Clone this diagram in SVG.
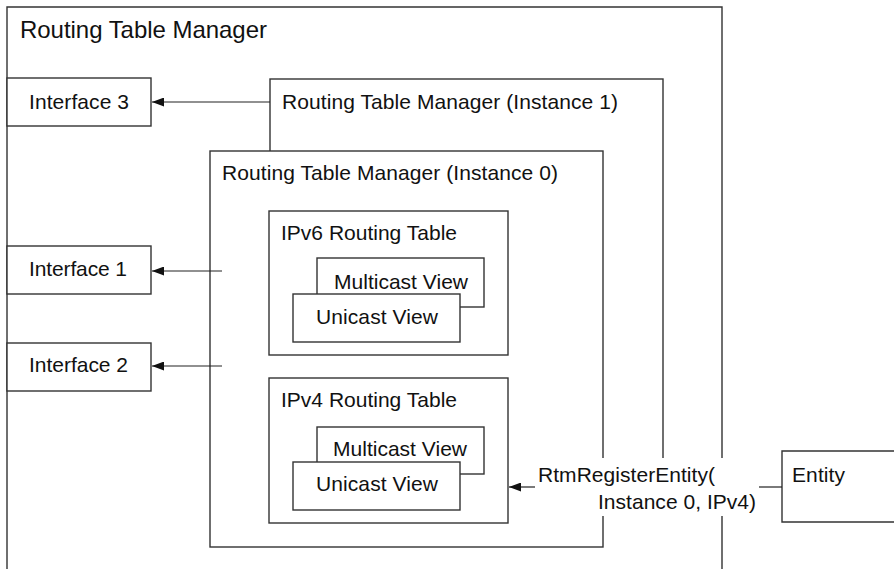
<svg xmlns="http://www.w3.org/2000/svg" width="894" height="569" viewBox="0 0 894 569">
  <style>
    .box { fill: #ffffff; stroke: #333; stroke-width: 1.4; }
    .frame { fill: none; stroke: #333; stroke-width: 1.4; }
    .lbl { font-family: "Liberation Sans", Arial, sans-serif; font-size: 21px; fill: #111; }
    .title { font-size: 24px; }
    .conn { stroke: #222; stroke-width: 1.2; fill: none; }
  </style>
  <defs>
    <marker id="arrowhead" viewBox="0 0 12 9" refX="12" refY="4.5" markerWidth="12" markerHeight="9" markerUnits="userSpaceOnUse" orient="auto">
      <path d="M0,0 L12,4.5 L0,9 z" fill="#111"/>
    </marker>
  </defs>

  <rect x="0" y="0" width="894" height="569" fill="#ffffff"/>

  <!-- outer manager frame (bottom runs off the page) -->
  <g id="rtm">
    <path class="frame" d="M7,580 V7 H722 V580"/>
    <text class="lbl title" x="20" y="38" textLength="247" lengthAdjust="spacing">Routing Table Manager</text>
  </g>

  <g id="instance1">
    <rect class="box" x="270" y="79" width="393" height="421"/>
    <text class="lbl" x="282" y="109" textLength="336" lengthAdjust="spacing">Routing Table Manager (Instance 1)</text>
  </g>

  <g id="instance0">
    <rect class="box" x="210" y="151" width="393" height="396"/>
    <text class="lbl" x="222" y="180" textLength="336" lengthAdjust="spacing">Routing Table Manager (Instance 0)</text>
  </g>

  <g id="ipv6-table">
    <rect class="box" x="269" y="211" width="239" height="144"/>
    <text class="lbl" x="281" y="240" textLength="176" lengthAdjust="spacing">IPv6 Routing Table</text>
  </g>
  <g id="ipv6-multicast">
    <rect class="box" x="317" y="258" width="167" height="49"/>
    <text class="lbl" x="334" y="289" textLength="134" lengthAdjust="spacing">Multicast View</text>
  </g>
  <g id="ipv6-unicast">
    <rect class="box" x="293" y="294" width="167" height="48"/>
    <text class="lbl" x="316" y="324" textLength="122" lengthAdjust="spacing">Unicast View</text>
  </g>

  <g id="ipv4-table">
    <rect class="box" x="269" y="378" width="239" height="145"/>
    <text class="lbl" x="281" y="407" textLength="176" lengthAdjust="spacing">IPv4 Routing Table</text>
  </g>
  <g id="ipv4-multicast">
    <rect class="box" x="317" y="427" width="167" height="47"/>
    <text class="lbl" x="333" y="456" textLength="134" lengthAdjust="spacing">Multicast View</text>
  </g>
  <g id="ipv4-unicast">
    <rect class="box" x="293" y="462" width="167" height="48"/>
    <text class="lbl" x="316" y="491" textLength="122" lengthAdjust="spacing">Unicast View</text>
  </g>

  <g id="interface3">
    <rect class="box" x="7" y="78" width="144" height="48"/>
    <text class="lbl" x="29" y="109" textLength="100" lengthAdjust="spacing">Interface 3</text>
  </g>
  <g id="interface1">
    <rect class="box" x="7" y="246" width="144" height="48"/>
    <text class="lbl" x="29" y="276" textLength="98" lengthAdjust="spacing">Interface 1</text>
  </g>
  <g id="interface2">
    <rect class="box" x="7" y="343" width="144" height="48"/>
    <text class="lbl" x="29" y="372" textLength="99" lengthAdjust="spacing">Interface 2</text>
  </g>

  <g id="entity">
    <path class="frame" d="M900,451 H782 V522 H900"/>
    <text class="lbl" x="792" y="482" textLength="53" lengthAdjust="spacing">Entity</text>
  </g>

  <g id="connectors">
    <line class="conn" x1="270" y1="102" x2="152" y2="102" marker-end="url(#arrowhead)"/>
    <line class="conn" x1="222" y1="271" x2="152" y2="271" marker-end="url(#arrowhead)"/>
    <line class="conn" x1="222" y1="366" x2="152" y2="366" marker-end="url(#arrowhead)"/>
    <line class="conn" x1="535" y1="487" x2="509" y2="487" marker-end="url(#arrowhead)"/>
    <line class="conn" x1="759" y1="487" x2="782" y2="487"/>
    <!-- call label sits on a white patch that interrupts the frames behind it -->
    <rect x="536" y="458" width="222" height="58" fill="#ffffff"/>
    <text class="lbl" x="538" y="482" textLength="177" lengthAdjust="spacing">RtmRegisterEntity(</text>
    <text class="lbl" x="598" y="509" textLength="158" lengthAdjust="spacing">Instance 0, IPv4)</text>
  </g>
</svg>
